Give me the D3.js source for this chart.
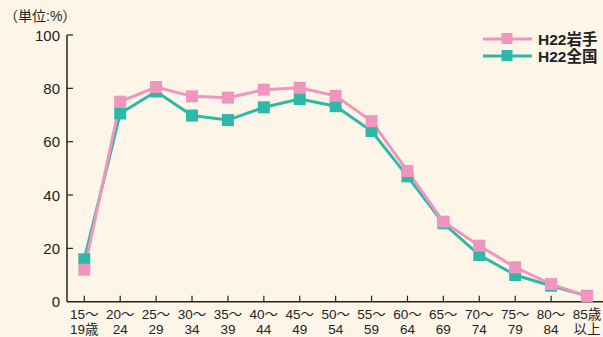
<!DOCTYPE html>
<html><head><meta charset="utf-8">
<script src="https://cdn.jsdelivr.net/npm/d3@7"></script>
<style>
html,body{margin:0;padding:0;background:#fdf6e8;}
svg{display:block;font-family:"Liberation Sans","Noto Sans CJK JP",sans-serif;}
</style></head><body>
<svg id="c" width="603" height="337"></svg>
<script>
const categories = ["15〜|19歳","20〜|24","25〜|29","30〜|34","35〜|39","40〜|44","45〜|49","50〜|54","55〜|59","60〜|64","65〜|69","70〜|74","75〜|79","80〜|84","85歳|以上"];
const iwate = [12.0,75.0,80.5,77.0,76.5,79.5,80.2,77.2,67.7,49.0,30.0,21.0,12.9,6.6,2.1];
const zenkoku = [15.9,70.6,78.8,69.8,68.1,72.9,76.0,73.3,64.0,47.0,29.4,17.5,10.0,6.0,2.2];
const yTicks = [0,20,40,60,80,100];
const seriesNames = ["H22岩手","H22全国"];
const colors = ["#f095be","#2db8a8"];

const svg = d3.select("#c");
const x = d3.scalePoint().domain(categories).range([84.3,587]);
const y = d3.scaleLinear().domain([0,100]).range([301.7,35]);
const ink = "#222";

// y axis
svg.append("line").attr("x1",67).attr("x2",67).attr("y1",y(100)).attr("y2",y(0)).attr("stroke",ink).attr("stroke-width",1.5);
yTicks.forEach(t=>{
  if(t>0) svg.append("line").attr("x1",67).attr("x2",73).attr("y1",y(t)).attr("y2",y(t)).attr("stroke",ink).attr("stroke-width",1.2);
  svg.append("text").attr("x",60).attr("y",y(t)+5.5).attr("text-anchor","end").attr("font-size",15).attr("fill",ink).text(t);
});
// x axis
svg.append("line").attr("x1",67).attr("x2",603).attr("y1",y(0)).attr("y2",y(0)).attr("stroke",ink).attr("stroke-width",1.5);
categories.forEach(c=>{
  const cx = x(c);
  svg.append("line").attr("x1",cx).attr("x2",cx).attr("y1",y(0)).attr("y2",y(0)-6).attr("stroke",ink).attr("stroke-width",1.2);
  const parts = c.split("|");
  svg.append("text").attr("x",cx).attr("y",318.5).attr("text-anchor","middle").attr("font-size",13.5).attr("fill",ink).text(parts[0]);
  svg.append("text").attr("x",cx).attr("y",333.5).attr("text-anchor","middle").attr("font-size",13.5).attr("fill",ink).text(parts[1]);
});
svg.append("text").attr("x",4).attr("y",21).attr("font-size",14).attr("fill",ink).text("（単位:%）");

const line = d3.line().x((d,i)=>x(categories[i])).y(d=>y(d));
const ms = 12;
[zenkoku, iwate].forEach((data, k)=>{
  const col = k===0 ? colors[1] : colors[0];
  svg.append("path").attr("d",line(data)).attr("fill","none").attr("stroke",col).attr("stroke-width",3);
});
[zenkoku, iwate].forEach((data, k)=>{
  const col = k===0 ? colors[1] : colors[0];
  svg.selectAll(null).data(data).enter().append("rect")
    .attr("x",(d,i)=>x(categories[i])-ms/2).attr("y",d=>y(d)-ms/2)
    .attr("width",ms).attr("height",ms).attr("fill",col);
});

// legend
seriesNames.forEach((n,i)=>{
  const ly = 39 + i*17;
  svg.append("line").attr("x1",483).attr("x2",532).attr("y1",ly).attr("y2",ly).attr("stroke",colors[i]).attr("stroke-width",3);
  svg.append("rect").attr("x",507-ms/2+0.5).attr("y",ly-ms/2).attr("width",11).attr("height",11).attr("fill",colors[i]);
  svg.append("text").attr("x",538).attr("y",ly+5.5).attr("font-size",15.5).attr("font-weight","bold").attr("fill",ink).text(n);
});
</script></body></html>
